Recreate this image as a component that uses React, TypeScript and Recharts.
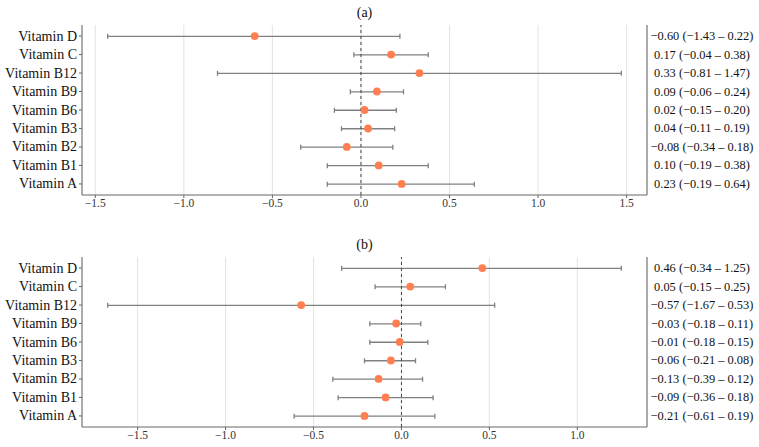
import React from "react";
import { ComposedChart, Bar, Line, XAxis, YAxis, CartesianGrid, ReferenceLine } from "recharts";

const vitamins = ["Vitamin D", "Vitamin C", "Vitamin B12", "Vitamin B9", "Vitamin B6", "Vitamin B3", "Vitamin B2", "Vitamin B1", "Vitamin A"];

const estA = [-0.6, 0.17, 0.33, 0.09, 0.02, 0.04, -0.08, 0.1, 0.23];
const lowA = [-1.43, -0.04, -0.81, -0.06, -0.15, -0.11, -0.34, -0.19, -0.19];
const highA = [0.22, 0.38, 1.47, 0.24, 0.2, 0.19, 0.18, 0.38, 0.64];

const estB = [0.46, 0.05, -0.57, -0.03, -0.01, -0.06, -0.13, -0.09, -0.21];
const lowB = [-0.34, -0.15, -1.67, -0.18, -0.18, -0.21, -0.39, -0.36, -0.61];
const highB = [1.25, 0.25, 0.53, 0.11, 0.15, 0.08, 0.12, 0.18, 0.19];

const ticksA = [-1.5, -1, -0.5, 0, 0.5, 1, 1.5];
const ticksB = [-1.5, -1, -0.5, 0, 0.5, 1];

const FONT = "'Liberation Serif', serif";

const fmt = (v: number) => {
  const s = Math.abs(v).toFixed(2);
  return v < 0 ? "\u2212" + s : s;
};
const fmt1 = (v: number) => {
  const s = Math.abs(v).toFixed(1);
  return v < 0 ? "\u2212" + s : s;
};

function build(est: number[], low: number[], high: number[]) {
  return vitamins.map((name, i) => ({
    name,
    est: est[i],
    ci: [low[i], high[i]],
    label: `${fmt(est[i])} (${fmt(low[i])} \u2013 ${fmt(high[i])})`,
  }));
}

const ErrShape = (p: any) => {
  const { x, y, width, height } = p;
  const cy = y + height / 2;
  return (
    <g stroke="#808080" strokeWidth={1.3}>
      <line x1={x} x2={x + width} y1={cy} y2={cy} />
      <line x1={x} x2={x} y1={y} y2={y + height} />
      <line x1={x + width} x2={x + width} y1={y} y2={y + height} />
    </g>
  );
};

const LeftTick = (p: any) => (
  <text x={p.x} y={p.y} textAnchor="end" dominantBaseline="central" fontSize={14} fill="#111" fontFamily={FONT}>
    {p.payload.value}
  </text>
);

type PanelProps = {
  title: string;
  data: any[];
  domain: [number, number];
  ticks: number[];
  height: number;
  top: number;
  xAxisH: number;
  titleY: number;
};

function Panel({ title, data, domain, ticks, height, top, xAxisH, titleY }: PanelProps) {
  const labels: Record<string, string> = {};
  data.forEach((d) => (labels[d.name] = d.label));
  const pad = 1.85;
  const RightTick = (p: any) => (
    <text x={702} y={p.y} textAnchor="middle" dominantBaseline="central" fontSize={12.4} fill="#111" fontFamily={FONT}>
      {labels[p.payload.value]}
    </text>
  );
  return (
    <div style={{ position: "relative", width: 759, height }}>
      <div style={{ position: "absolute", left: 82, width: 565, top: titleY - 9, textAlign: "center", fontSize: 14, fontFamily: FONT, color: "#111", lineHeight: "18px" }}>
        {title}
      </div>
      <ComposedChart width={759} height={height} data={data} layout="vertical" margin={{ top, right: 0, left: 0, bottom: 0 }} style={{ fontFamily: FONT }}>
        <CartesianGrid horizontal={false} stroke="#e3e3e3" strokeWidth={1} />
        <XAxis
          type="number"
          domain={domain}
          ticks={ticks}
          allowDataOverflow
          height={xAxisH}
          tickFormatter={fmt1}
          tickSize={3}
          tickMargin={1}
          stroke="#666"
          tick={{ fontSize: 11.5, fill: "#333", fontFamily: FONT }}
        />
        <XAxis xAxisId="top" type="number" orientation="top" domain={domain} allowDataOverflow height={0} tick={false} tickLine={false} stroke="#666" />
        <YAxis
          type="category"
          dataKey="name"
          width={82}
          tickSize={3}
          tickMargin={2}
          stroke="#666"
          padding={{ top: pad, bottom: pad }}
          tick={LeftTick}
          interval={0}
        />
        <YAxis
          yAxisId="right"
          orientation="right"
          type="category"
          dataKey="name"
          width={112}
          tickLine={false}
          stroke="#666"
          padding={{ top: pad, bottom: pad }}
          tick={RightTick}
          interval={0}
        />
        <ReferenceLine x={0} stroke="#444" strokeDasharray="3 3" strokeWidth={1} />
        <Bar dataKey="ci" barSize={5} shape={ErrShape} isAnimationActive={false} />
        <Line dataKey="est" stroke="none" dot={{ r: 3.9, fill: "#ff7f50", stroke: "none" }} activeDot={false} isAnimationActive={false} />
      </ComposedChart>
    </div>
  );
}

export default function App() {
  const dataA = build(estA, lowA, highA);
  const dataB = build(estB, lowB, highB);
  return (
    <div style={{ position: "absolute", left: 0, top: 0, width: 759, height: 447, background: "#fff", fontFamily: FONT }}>
      <Panel title="(a)" data={dataA} domain={[-1.575, 1.615]} ticks={ticksA} height={220} top={25} xAxisH={25} titleY={13} />
      <Panel title="(b)" data={dataB} domain={[-1.816, 1.396]} ticks={ticksB} height={227} top={37} xAxisH={20} titleY={25} />
    </div>
  );
}
